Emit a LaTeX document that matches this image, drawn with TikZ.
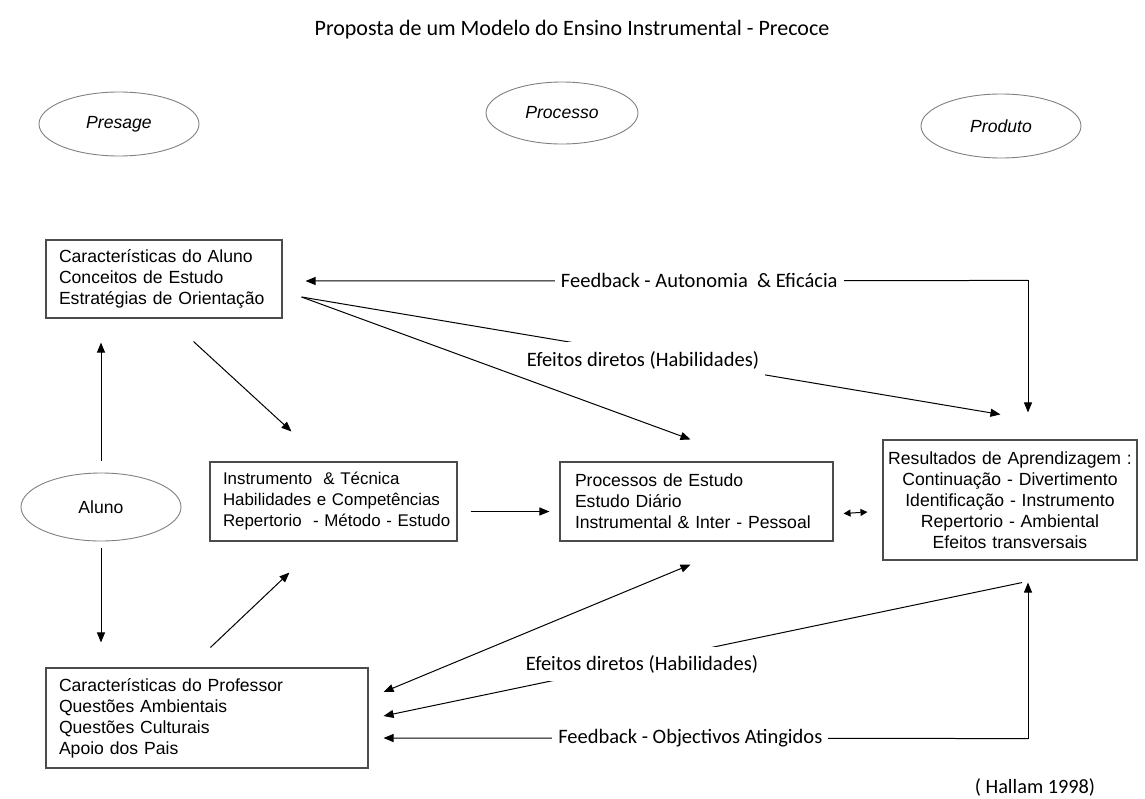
\documentclass[tikz,border=0pt]{standalone}
\usepackage{fontspec}
\setmainfont{Liberation Sans}
\newfontfamily\calfont{Carlito}
\usetikzlibrary{arrows.meta,shapes.geometric,calc}
\begin{document}
\begin{tikzpicture}[x=1pt,y=-1pt,
  boxtxt/.style={draw=black!70, line width=1.1pt, font=\fontsize{17.6}{21}\selectfont, align=left, inner xsep=13pt, inner ysep=0pt},
  ell/.style={ellipse, draw=black!50, line width=0.9pt, font=\fontsize{17.6}{21}\selectfont\itshape, inner sep=0pt},
  lab/.style={fill=white, font=\calfont\fontsize{20.5}{24}\selectfont, inner xsep=6pt, inner ysep=9pt},
  arr/.style={-{Triangle[length=10pt,width=8pt]}, line width=1pt},
  darr/.style={{Triangle[length=10pt,width=8pt]}-{Triangle[length=10pt,width=8pt]}, line width=1pt},
]
\useasboundingbox (0,0) rectangle (1145,798);

\node[font=\calfont\fontsize{22}{26}\selectfont] (title) at (572,30) {Proposta de um Modelo do Ensino Instrumental - Precoce};

\node[ell, minimum width=160pt, minimum height=64pt] (pres) at (119,124) {Presage};
\node[ell, minimum width=152pt, minimum height=62pt] (proc) at (562,113) {Processo};
\node[ell, minimum width=160pt, minimum height=64pt] (prod) at (1001,126) {Produto};
\node[ell, font=\fontsize{17.6}{21}\selectfont, minimum width=160pt, minimum height=68pt] (aluno) at (101,507) {Aluno};

\node[boxtxt, text width=210pt, minimum height=78pt] (b1) at (164,279)
  {\mbox{Características do Aluno}\\\mbox{Conceitos de Estudo}\\\mbox{Estratégias de Orientação}};
\node[boxtxt, font=\fontsize{16.9}{21}\selectfont, text width=221pt, minimum height=79pt] (b2) at (333.5,501.5)
  {\mbox{Instrumento \ \& Técnica}\\\mbox{Habilidades e Competências}\\\mbox{Repertorio \ - Método - Estudo}};
\node[boxtxt, inner xsep=15pt, text width=243pt, minimum height=79pt] (b3) at (696.5,501.5)
  {\mbox{Processos de Estudo}\\\mbox{Estudo Diário}\\\mbox{Instrumental \& Inter - Pessoal}};
\node[boxtxt, align=center, inner xsep=4pt, text width=246pt, minimum height=120pt] (b4) at (1010,500)
  {\mbox{Resultados de Aprendizagem :}\\\mbox{Continuação - Divertimento}\\\mbox{Identificação - Instrumento}\\\mbox{Repertorio - Ambiental}\\\mbox{Efeitos transversais}};
\node[boxtxt, text width=296pt, minimum height=100pt] (b5) at (207,718)
  {\mbox{Características do Professor}\\\mbox{Questões Ambientais}\\\mbox{Questões Culturais}\\\mbox{Apoio dos Pais}};

% Aluno arrows
\draw[arr] ([yshift=12pt]aluno.north) -- ([yshift=-24pt]b1.south -| aluno.north);
\draw[arr] ([yshift=-7pt]aluno.south) -- ([yshift=25pt]b5.north -| aluno.south);

% diagonals into box 2
\coordinate (d1s) at ($(b1.south east)+(-89,23)$);
\coordinate (d1e) at ($(b2.north west)+(82,-30)$);
\draw[arr] (d1s) -- (d1e);
\coordinate (d2s) at ($(b5.north west)+(165,-20)$);
\coordinate (d2e) at ($(b2.south west)+(80,31)$);
\draw[arr] (d2s) -- (d2e);

% box2 -> box3, box3 <-> box4
\draw[arr] ($(b2.east)+(13,10)$) -- ($(b3.west)+(-10,10)$);
\draw[{Triangle[length=7pt,width=7pt]}-{Triangle[length=7pt,width=7pt]}, line width=1pt] ($(b3.east)+(10,12)$) -- ($(b4.west)+(-15,12)$);

% top feedback
\coordinate (fbc) at ($(b4.north)+(18,-159)$);
\coordinate (fbtip) at ($(b4.north)+(18,-27)$);
\coordinate (b1fb) at ($(b1.east)+(23,2)$);
\draw[arr] (fbc) -- (fbtip);
\draw[arr] (fbc) -- node[lab, pos=0.455] (fl1) {Feedback - Autonomia \ \& Eficácia} (b1fb);

% upper direct effects
\coordinate (es) at ($(b1.east)+(19,18)$);
\draw[arr] (es) -- ($(b4.north west)+(118,-25)$);
\node[lab] (le1) at (643,360) {Efeitos diretos (Habilidades)};
\draw[arr] (es) -- ($(b3.north)+(-6,-22)$);

% lower connectors
\draw[darr] ($(b5.east)+(15,-26)$) -- ($(b3.south)+(-6,23)$);
\coordinate (lr) at ($(b4.south)+(12,22)$);
\draw[arr] (lr) -- ($(b5.east)+(15,-2)$);
\node[lab, inner ysep=8pt] (le2) at (642,664) {Efeitos diretos (Habilidades)};

\coordinate (fbc2) at ($(b4.south)+(18,178)$);
\draw[arr] (fbc2) -- ($(b4.south)+(18,22)$);
\draw[arr] (fbc2) -- node[lab, pos=0.524] (fl2) {Feedback - Objectivos Atingidos} ($(b5.east)+(15,20)$);

\node[font=\calfont\fontsize{20.3}{24}\selectfont] (ref) at (1035,787) {( Hallam 1998)};
\end{tikzpicture}
\end{document}
